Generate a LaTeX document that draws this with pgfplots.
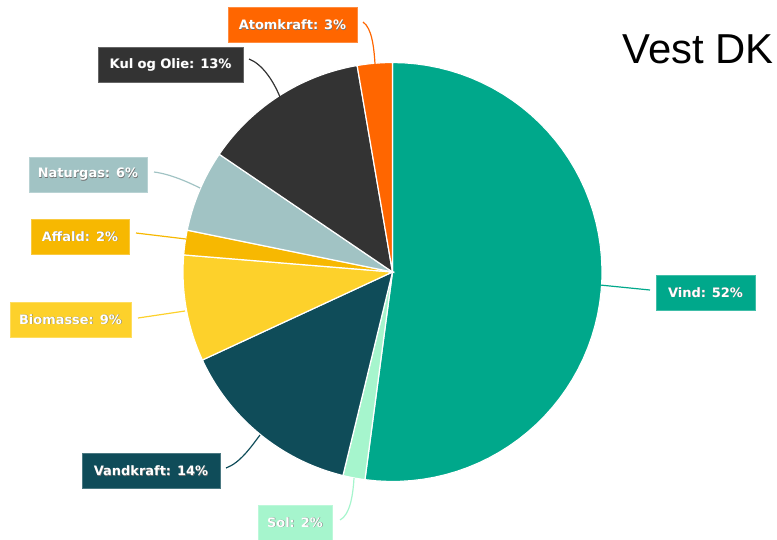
\documentclass[border=0pt]{standalone}
\usepackage{pgfplots}
\pgfplotsset{compat=1.18}
\usepackage{fontspec}
\setmainfont{DejaVu Sans}
\newfontfamily\titlefont{Liberation Sans}
\definecolor{cVind}{HTML}{00A88B}
\definecolor{cSol}{HTML}{A6F5CD}
\definecolor{cVand}{HTML}{0F4C59}
\definecolor{cBio}{HTML}{FDD12B}
\definecolor{cAff}{HTML}{F7B801}
\definecolor{cGas}{HTML}{A1C3C4}
\definecolor{cKul}{HTML}{333333}
\definecolor{cAtom}{HTML}{FF6600}
% wedge from cumulative percentage #1 to #2
\newcommand{\slice}[3]{%
  \addplot[fill=#3, draw=white, line width=1.2bp, domain=#1*3.6:#2*3.6, samples=60, variable=\t]
    ({392.5+209.5*sin(\t)},{272-209.5*cos(\t)}) -- (axis cs:392.5,272) -- cycle;}
\newcommand{\lab}[5]{% x y width color text
  \node[fill=#4, draw=#4!75!white, line width=0.6bp, minimum width=#3bp, minimum height=35bp,
        inner sep=0pt] at (axis cs:#1,#2) {};
  \node[text=black!55, inner sep=0pt, font=\bfseries\fontsize{13}{15}\selectfont] at ([xshift=0.5bp,yshift=-0.5bp]axis cs:#1,#2) {#5};
  \node[text=white, inner sep=0pt, font=\bfseries\fontsize{13}{15}\selectfont] at (axis cs:#1,#2) {#5};}
\begin{document}
\begin{tikzpicture}
\useasboundingbox (0,0) rectangle (777bp,540bp);
\begin{axis}[
  at={(0,0)}, anchor=south west,
  width=777bp, height=540bp, scale only axis,
  xmin=0, xmax=777, ymin=0, ymax=540, y dir=reverse,
  hide axis, clip=false]
% cumulative shares (percent): Vind 52.1, Sol 1.7, Vandkraft 14.3, Biomasse 8.2,
% Affald 1.9, Naturgas 6.3, Kul og Olie 12.8, Atomkraft 2.7
\slice{0}{52.1}{cVind}
\slice{52.1}{53.8}{cSol}
\slice{53.8}{68.1}{cVand}
\slice{68.1}{76.3}{cBio}
\slice{76.3}{78.2}{cAff}
\slice{78.2}{84.5}{cGas}
\slice{84.5}{97.3}{cKul}
\slice{97.3}{100}{cAtom}
% leader lines
\draw[cAtom, line width=1.2bp] (axis cs:363,22) .. controls (axis cs:372,28) and (axis cs:374,48) .. (axis cs:375,64);
\draw[cKul, line width=1.2bp] (axis cs:249,59) .. controls (axis cs:262,64) and (axis cs:273,80) .. (axis cs:280,97);
\draw[cGas, line width=1.2bp] (axis cs:154,172) .. controls (axis cs:170,174) and (axis cs:188,182) .. (axis cs:200,188);
\draw[cAff, line width=1.2bp] (axis cs:136,233) -- (axis cs:186,239);
\draw[cBio, line width=1.2bp] (axis cs:138,318) -- (axis cs:185,311);
\draw[cVand, line width=1.2bp] (axis cs:226,468) .. controls (axis cs:240,463) and (axis cs:251,447) .. (axis cs:260,435);
\draw[cSol, line width=1.2bp] (axis cs:340,520) .. controls (axis cs:350,515) and (axis cs:353,495) .. (axis cs:354,478);
\draw[cVind, line width=1.2bp] (axis cs:600,285) -- (axis cs:650,290);
% labels
\lab{292.5}{25}{129}{cAtom}{Atomkraft: 3\%}
\lab{170.5}{64.5}{145}{cKul}{Kul og Olie: 13\%}
\lab{88}{174.5}{118}{cGas}{Naturgas: 6\%}
\lab{80}{236.5}{98}{cAff}{Affald: 2\%}
\lab{70.5}{319.5}{121}{cBio}{Biomasse: 9\%}
\lab{151}{471}{138}{cVand}{Vandkraft: 14\%}
\lab{295}{522.5}{74}{cSol}{Sol: 2\%}
\lab{705.5}{292.5}{99}{cVind}{Vind: 52\%}
\node[anchor=base east, font=\titlefont\fontsize{42}{48}\selectfont, text=black, inner sep=0pt] at (axis cs:774,63) {Vest DK};
\end{axis}
\end{tikzpicture}
\end{document}
